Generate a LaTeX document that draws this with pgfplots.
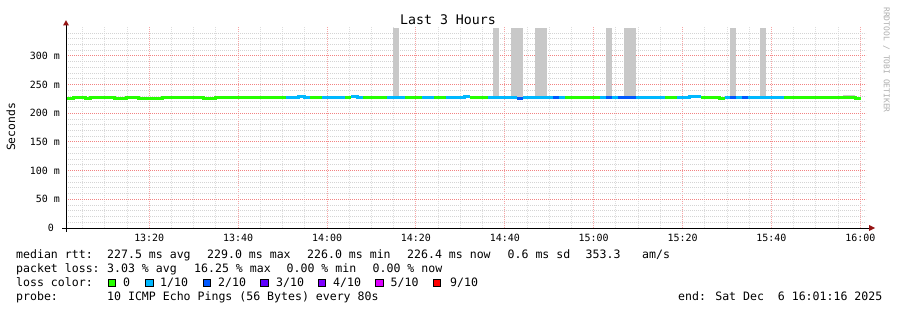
\documentclass[border=0pt]{standalone}
\usepackage{pgfplots}
\pgfplotsset{compat=1.18}
\usepackage{pgfplotstable}
\usepackage{fontspec}
\setmainfont{DejaVu Sans Mono}
\usetikzlibrary{arrows.meta}

\definecolor{lczero}{HTML}{26FF00}
\definecolor{lcone}{HTML}{00B8FF}
\definecolor{lctwo}{HTML}{0059FF}
\definecolor{lcthree}{HTML}{5E00FF}
\definecolor{lcfour}{HTML}{7E00FF}
\definecolor{lcfive}{HTML}{DD00FF}
\definecolor{lcnine}{HTML}{FF0000}
\definecolor{smoke}{RGB}{200,200,200}
\definecolor{gridgrey}{RGB}{212,212,212}
\definecolor{gridred}{RGB}{242,130,130}
\definecolor{vgridgrey}{RGB}{222,222,222}
\definecolor{vgridred}{RGB}{246,165,165}
\definecolor{arrowred}{RGB}{150,20,20}
\definecolor{wmgrey}{RGB}{175,175,175}

\newcommand{\fl}{\fontsize{11.6}{13}\selectfont}
\newcommand{\ft}{\fontsize{10}{12}\selectfont}

% time in minutes after 13:00, median rtt in ms
\pgfplotstableread{
t y
1.27 226.0
2.85 227.5
5.55 226.0
6.67 227.5
12.07 226.0
14.77 227.5
17.47 226.0
22.87 227.5
32.10 226.0
34.80 227.5
50.77 227.5
nan nan
56.17 227.5
58.87 227.5
nan nan
64.05 227.5
65.40 227.5
nan nan
68.10 227.5
73.50 227.5
nan nan
77.55 227.5
81.37 227.5
nan nan
84.07 227.5
86.77 227.5
nan nan
92.17 227.5
93.52 227.0
96.22 227.0
nan nan
113.55 227.0
116.02 227.5
121.42 227.5
nan nan
136.05 227.5
138.75 227.5
nan nan
144.15 227.5
148.20 226.5
149.55 226.5
nan nan
162.82 227.5
164.17 227.0
178.80 225.8
180.15 225.8
}\greenrtt

\pgfplotstableread{
t y
50.77 227.5
53.47 228.8
54.82 227.5
56.17 227.5
nan nan
58.87 227.5
64.05 227.5
nan nan
65.40 228.8
66.75 227.5
68.10 227.5
nan nan
73.50 227.5
77.55 227.5
nan nan
81.37 227.5
84.07 227.5
nan nan
86.77 227.5
89.47 227.0
90.82 228.8
92.17 228.8
nan nan
96.22 227.5
102.75 227.5
nan nan
104.10 227.5
105.45 227.0
110.85 227.0
nan nan
112.20 227.5
113.55 227.5
nan nan
121.42 227.5
122.77 227.5
nan nan
124.12 227.5
125.47 227.5
nan nan
129.52 227.5
136.05 227.5
nan nan
138.75 227.5
141.45 228.8
144.15 228.8
nan nan
149.55 227.5
150.67 227.5
nan nan
152.02 227.5
153.37 227.5
nan nan
154.72 227.5
162.82 227.5
}\lightbluertt

\pgfplotstableread{
t y
102.75 226.5
104.10 226.5
nan nan
110.85 227.5
112.20 227.5
nan nan
122.77 227.5
124.12 227.5
nan nan
125.47 227.5
129.52 227.5
nan nan
150.67 227.5
152.02 227.5
nan nan
153.37 227.5
154.72 227.5
}\bluertt

\begin{document}
\begin{tikzpicture}[x=1bp,y=1bp]
\useasboundingbox (0,0) rectangle (897,310);
\fill[white] (0,0) rectangle (897,310);
\begin{axis}[
  at={(66bp,82bp)}, anchor=south west, scale only axis,
  width=800bp, height=200.7bp,
  xmin=1.27, xmax=181.27, ymin=0, ymax=350,
  axis line style={draw=none},
  xtick pos=bottom, ytick pos=left,
  major tick length=0pt, minor tick length=0pt,
  xtick={20,40,60,80,100,120,140,160,180},
  xticklabels={13:20,13:40,14:00,14:20,14:40,15:00,15:20,15:40,16:00},
  minor xtick={5,10,15,25,30,35,45,50,55,65,70,75,85,90,95,105,110,115,125,130,135,145,150,155,165,170,175},
  ytick={0,50,100,150,200,250,300},
  yticklabels={0\phantom{m},50 m,100 m,150 m,200 m,250 m,300 m},
  minor ytick={10,20,30,40,60,70,80,90,110,120,130,140,160,170,180,190,210,220,230,240,260,270,280,290,310,320,330,340},
  grid=both,
  minor grid style={draw=gridgrey, line width=1bp, dash pattern=on 1bp off 1bp},
  major grid style={draw=gridred, line width=1bp, dash pattern=on 1bp off 1bp},
  minor x grid style={draw=vgridgrey},
  major x grid style={draw=vgridred},
  xticklabel style={font=\ft, anchor=north, inner sep=0pt, yshift=-5.5bp},
  yticklabel style={font=\ft, anchor=east, inner sep=0pt, xshift=-6bp},
  unbounded coords=jump,
]
% smoke bars
\addplot[fill=smoke, draw=none] coordinates {(74.85,228) (74.85,349) (76.20,349) (76.20,228)} -- cycle;
\addplot[fill=smoke, draw=none] coordinates {(97.35,228) (97.35,349) (98.70,349) (98.70,228)} -- cycle;
\addplot[fill=smoke, draw=none] coordinates {(101.40,228) (101.40,349) (104.10,349) (104.10,228)} -- cycle;
\addplot[fill=smoke, draw=none] coordinates {(106.80,228) (106.80,349) (109.50,349) (109.50,228)} -- cycle;
\addplot[fill=smoke, draw=none] coordinates {(122.78,228) (122.78,349) (124.13,349) (124.13,228)} -- cycle;
\addplot[fill=smoke, draw=none] coordinates {(126.83,228) (126.83,349) (129.53,349) (129.53,228)} -- cycle;
\addplot[fill=smoke, draw=none] coordinates {(150.68,228) (150.68,349) (152.03,349) (152.03,228)} -- cycle;
\addplot[fill=smoke, draw=none] coordinates {(157.43,228) (157.43,349) (158.78,349) (158.78,228)} -- cycle;
\addplot[fill=smoke, draw=none] coordinates {(169.35,227) (169.35,230.4) (172.05,230.4) (172.05,227)} -- cycle;
\addplot[fill=smoke, draw=none] coordinates {(176.10,227) (176.10,232.3) (178.80,232.3) (178.80,227)} -- cycle;
% median rtt coloured by loss
\addplot[const plot mark left, draw=lczero, line width=3bp] table[x=t, y=y] {\greenrtt};
\addplot[const plot mark left, draw=lcone, line width=3bp] table[x=t, y=y] {\lightbluertt};
\addplot[const plot mark left, draw=lctwo, line width=3bp] table[x=t, y=y] {\bluertt};
\end{axis}
% axis lines and arrows
\draw[black, line width=1bp] (62,82) -- (869,82);
\fill[arrowred] (869,85) -- (875,82) -- (869,79) -- cycle;
\draw[black, line width=1bp] (66,78) -- (66,284.5);
\fill[arrowred] (63,284.5) -- (66,289.8) -- (69,284.5) -- cycle;
% title, axis label, watermark
\node[anchor=base, inner sep=0pt, font=\fontsize{13.3}{15}\selectfont] at (448,285.5) {Last 3 Hours};
\node[rotate=90, inner sep=0pt, font=\fontsize{11.4}{13}\selectfont] at (11,183) {Seconds};
\node[rotate=-90, inner sep=0pt, text=wmgrey, font=\fontsize{8}{9}\selectfont] at (886.5,250) {RRDTOOL / TOBI OETIKER};
% legend
\begin{scope}[every node/.style={anchor=base west, inner sep=0pt, font=\fl}]
\node at (16,52) {median rtt:};
\node at (107,52) {227.5 ms avg};
\node at (207,52) {229.0 ms max};
\node at (307,52) {226.0 ms min};
\node at (407,52) {226.4 ms now};
\node at (507.5,52) {0.6 ms sd};
\node at (585.5,52) {353.3};
\node at (642,52) {am/s};
\node at (16,38) {packet loss:};
\node at (107,38) {3.03 \% avg};
\node at (194,38) {16.25 \% max};
\node at (286.5,38) {0.00 \% min};
\node at (372.5,38) {0.00 \% now};
\node at (16,24) {loss color:};
\node at (123,24) {0};
\node at (160,24) {1/10};
\node at (218,24) {2/10};
\node at (276,24) {3/10};
\node at (333,24) {4/10};
\node at (390.5,24) {5/10};
\node at (450,24) {9/10};
\node at (16,10) {probe:};
\node at (107,10) {10 ICMP Echo Pings (56 Bytes) every 80s};
\node at (678,10) {end: Sat Dec\ \ 6 16:01:16 2025};
\end{scope}
\foreach \bx/\bc in {108.3/lczero,145.7/lcone,203.3/lctwo,260.7/lcthree,318.3/lcfour,375.7/lcfive,433.3/lcnine}{
  \filldraw[fill=\bc, draw=black, line width=0.8bp] (\bx,23.8) rectangle ++(7.3,7.3);
}
\end{tikzpicture}
\end{document}
